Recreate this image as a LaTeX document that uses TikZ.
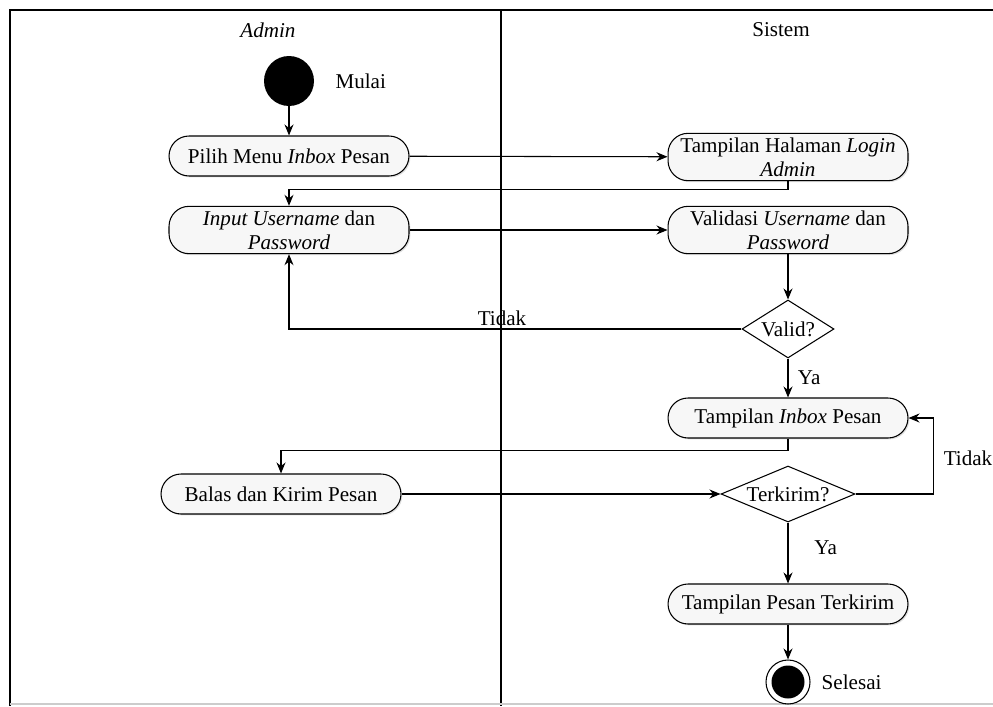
\documentclass[tikz,border=0pt]{standalone}
\usepackage{fontspec}
\setmainfont{Liberation Serif}
\usetikzlibrary{positioning, arrows.meta, shapes.geometric, shadows}

\begin{document}
\begin{tikzpicture}[
            x=0.02cm, y=-0.02cm, % satuan piksel
            font=\fontsize{12}{13.5}\selectfont,
            block/.style={rectangle, draw, rounded corners=0.4cm, minimum height=8mm, minimum width=48mm, inner xsep=1pt, inner ysep=2.5pt, align=center, fill=gray!6, line width=0.6pt, drop shadow={opacity=0.25, shadow xshift=0.8pt, shadow yshift=-0.8pt}},
            decision/.style={diamond, draw, fill=white, inner sep=1pt, line width=0.6pt},
            flow/.style={-{Stealth[length=2.2mm, width=1.8mm]}, line width=0.6pt},
            lane/.style={line width=0.6pt}
        ]
            \useasboundingbox (0,0) rectangle (993,706);
            % swimlane
            \draw[lane] (10,706) -- (10,10) -- (993,10);
            \draw[lane] (501,10) -- (501,706);
            \draw[gray!40, line width=1pt] (10,704) -- (993,704);
            \node (admin) at (268,30) {\textit{Admin}};
            \node (sistem) at (781,30) {Sistem};

            \node[circle, fill=black, minimum size=10mm, inner sep=0pt] (start) at (289,81) {};
            \node[right=0.3cm of start] (mulai) {Mulai};
            \node[block] (pilih) at (289,156) {Pilih Menu \textit{Inbox} Pesan};
            \node[block] (login) at (788,157) {Tampilan Halaman \textit{Login}\\\textit{Admin}};
            \node[block] (input) at (289,230) {\textit{Input Username} dan\\\textit{Password}};
            \node[block] (validasi) at (788,230) {Validasi \textit{Username} dan\\\textit{Password}};
            \node[decision, aspect=1.6, minimum width=18.4mm, minimum height=11.6mm] (valid) at (788,329) {Valid?};
            \node[block] (inbox) at (788,418) {Tampilan \textit{Inbox} Pesan};
            \node[block] (balas) at (281,494) {Balas dan Kirim Pesan};
            \node[decision, aspect=2.4, inner sep=0pt, minimum width=26.8mm, minimum height=11.2mm] (terkirim) at (788,494) {Terkirim?};
            \node[block] (terkirimview) at (788,604) {Tampilan Pesan Terkirim};
            \node[circle, draw, line width=0.6pt, minimum size=8.8mm, inner sep=0pt] (stop) at (788,682) {};
            \node[circle, fill=black, minimum size=6.6mm, inner sep=0pt] (stopdot) at (stop) {};
            \node[right=0.1cm of stop] (selesai) {Selesai};

            \draw[flow] (start) -- (pilih);
            \draw[flow] (pilih) -- (login);
            \draw[flow] (login.south) -- ++(0,8) -| (input.north);
            \draw[flow] (input) -- (validasi);
            \draw[flow] (validasi) -- (valid);
            \draw[flow] (valid.west) -| (input.south);
            \node (tidak1) at (502,318) {Tidak};
            \draw[flow] (valid) -- (inbox) node[midway, right=2pt] (ya1) {Ya};
            \draw[flow] (inbox.south) -- ++(0,12) -| (balas.north);
            \draw[flow] (balas) -- (terkirim);
            \draw[flow] (terkirim.east) -- ++(78,0) |- (inbox.east);
            \node (tidak2) at (968,458) {Tidak};
            \draw[flow] (terkirim) -- (terkirimview) node[midway, right=0.4cm, yshift=3pt] (ya2) {Ya};
            \draw[flow] (terkirimview) -- (stop);
        \end{tikzpicture}
\end{document}
